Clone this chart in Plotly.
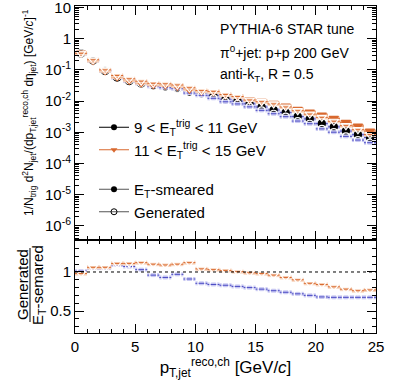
import plotly.graph_objects as go
from plotly.subplots import make_subplots

# bin centres, 1 GeV/c bins
pt = [0.5, 1.5, 2.5, 3.5, 4.5, 5.5, 6.5, 7.5, 8.5, 9.5, 10.5, 11.5, 12.5,
      13.5, 14.5, 15.5, 16.5, 17.5, 18.5, 19.5, 20.5, 21.5, 22.5, 23.5, 24.5]
half_bin = 0.5

# E_T-smeared spectra
smeared_9_11 = [0.34, 0.20, 0.093, 0.057, 0.044, 0.037, 0.031, 0.029, 0.026, 0.020,
                0.018, 0.0147, 0.0115, 0.010, 0.0082, 0.0065, 0.0052, 0.0043, 0.0032,
                0.0027, 0.0019, 0.0015, 0.0011, 0.00084, 0.00069]
smeared_11_15 = [0.35, 0.20, 0.095, 0.060, 0.047, 0.039, 0.034, 0.033, 0.030, 0.024,
                 0.021, 0.020, 0.016, 0.014, 0.011, 0.0098, 0.0085, 0.0070, 0.0055,
                 0.0045, 0.0036, 0.0028, 0.0021, 0.0016, 0.0011]

# Generated / E_T-smeared
ratio_9_11 = [1.01, 1.05, 1.05, 1.09, 1.07, 1.03, 0.96, 0.93, 0.97, 0.91, 0.855, 0.84,
              0.83, 0.815, 0.80, 0.78, 0.76, 0.74, 0.72, 0.70, 0.68, 0.675, 0.675,
              0.675, 0.675]
ratio_11_15 = [0.98, 1.06, 1.06, 1.11, 1.11, 1.12, 1.10, 1.09, 1.10, 1.12, 1.04, 1.03,
               1.02, 1.005, 0.99, 0.98, 0.96, 0.93, 0.90, 0.855, 0.84, 0.81, 0.78,
               0.76, 0.77]

generated_9_11 = [s * r for s, r in zip(smeared_9_11, ratio_9_11)]
generated_11_15 = [s * r for s, r in zip(smeared_11_15, ratio_11_15)]

BLUE = "#4b4bc3"
LIGHT_BLUE = "#c9c9f2"
ORANGE = "#d8682e"
LIGHT_ORANGE = "#f7d2ba"
FONT = "Liberation Sans, Arial, sans-serif"

# pixel frame of the plot area
L, R, T, B = 75, 376, 6, 333
W, H = 415, 384
PW, PH = R - L, B - T


def px(x):
    return (x - L) / PW


def py(y):
    return 1 - (y - T) / PH


fig = make_subplots(rows=2, cols=1, shared_xaxes=True, vertical_spacing=0,
                    row_heights=[234, 93])


def add_points(y, row, line_col, band_col, symbol, mcol, fill):
    # light band behind the bin
    fig.add_trace(go.Scatter(
        x=pt, y=y, mode="markers", marker=dict(size=1, opacity=0),
        error_x=dict(type="constant", value=half_bin, color=band_col, thickness=4, width=0),
        showlegend=False, hoverinfo="skip"), row=row, col=1)
    fig.add_trace(go.Scatter(
        x=pt, y=y, mode="markers",
        marker=dict(symbol=symbol, size=7 if "circle" in symbol else 8,
                    color=mcol if fill else "white",
                    line=dict(color=mcol, width=1.2)),
        error_x=dict(type="constant", value=half_bin, color=line_col, thickness=1, width=0),
        showlegend=False), row=row, col=1)


# top panel
add_points(smeared_9_11, 1, BLUE, LIGHT_BLUE, "circle", "black", True)
add_points(generated_9_11, 1, BLUE, LIGHT_BLUE, "circle-open", "black", False)
add_points(smeared_11_15, 1, ORANGE, LIGHT_ORANGE, "triangle-down", ORANGE, True)
add_points(generated_11_15, 1, ORANGE, LIGHT_ORANGE, "triangle-down-open", ORANGE, False)

# ratio panel
add_points(ratio_9_11, 2, BLUE, LIGHT_BLUE, "circle-open", "black", False)
add_points(ratio_11_15, 2, ORANGE, LIGHT_ORANGE, "triangle-down-open", ORANGE, False)

# legend entries
leg = [
    ("9 < E<sub>T</sub><sup>trig</sup> < 11 GeV", "black", "circle", "black", "a"),
    ("11 < E<sub>T</sub><sup>trig</sup> < 15 GeV", ORANGE, "triangle-down", ORANGE, "a"),
    ("E<sub>T</sub>-smeared", "#555555", "circle", "black", "b"),
    ("Generated", "#555555", "circle-open", "black", "b"),
]
for name, lcol, sym, mcol, grp in leg:
    fig.add_trace(go.Scatter(
        x=[None], y=[None], mode="lines+markers", name=name, legendgroup=grp,
        line=dict(color=lcol, width=1),
        marker=dict(symbol=sym, size=6, color=mcol)), row=1, col=1)

fig.add_hline(y=1, line=dict(color="black", width=1, dash="3px,3px"), row=2, col=1)

axis_common = dict(
    showline=True, linecolor="black", linewidth=1, mirror="ticks",
    ticks="inside", ticklen=9, tickcolor="black", showgrid=False, zeroline=False,
    automargin=False, ticklabeloverflow="allow",
    tickfont=dict(family=FONT, size=15, color="black"),
)

fig.update_xaxes(range=[0, 25], dtick=5, **axis_common,
                 minor=dict(ticks="inside", ticklen=4, dtick=1, tickcolor="black"))
fig.update_xaxes(showticklabels=False, row=1, col=1)
fig.update_xaxes(title=dict(text="p<sub>T,jet</sub><sup>reco,ch</sup> [GeV/<i>c</i>]",
                            font=dict(family=FONT, size=17, color="black"), standoff=3),
                 row=2, col=1)

fig.update_yaxes(type="log", range=[-6.45, 1.05],
                 tickvals=[10, 1, 0.1, 0.01, 0.001, 1e-4, 1e-5, 1e-6],
                 ticktext=["10", "1", "10<sup>-1</sup>", "10<sup>-2</sup>", "10<sup>-3</sup>",
                           "10<sup>-4</sup>", "10<sup>-5</sup>", "10<sup>-6</sup>"],
                 **axis_common,
                 minor=dict(ticks="inside", ticklen=4, tickcolor="black", dtick="D1"),
                 row=1, col=1)
fig.update_yaxes(range=[0.218, 1.41], tickvals=[0.5, 1], ticktext=["0.5", "1"],
                 **axis_common,
                 minor=dict(ticks="inside", ticklen=4, dtick=0.1, tickcolor="black"),
                 row=2, col=1)

txt = dict(family=FONT, size=14, color="black")
for t, yy in [("PYTHIA-6 STAR tune", 29), ("π<sup>0</sup>+jet: p+p 200 GeV", 52),
              ("anti-k<sub>T</sub>, R = 0.5", 75)]:
    fig.add_annotation(text=t, xref="paper", yref="paper", x=px(218), y=py(yy),
                       xanchor="left", yanchor="middle", showarrow=False, font=txt)

# y titles
fig.add_annotation(
    text="1/N<sub>trig</sub> d<sup>2</sup>N<sub>jet</sub>/(dp<sub>T,jet</sub><sup>reco,ch</sup> dη<sub>jet</sub>) [GeV/<i>c</i>]<sup>-1</sup>",
    xref="paper", yref="paper", x=px(29), y=py(113), xanchor="center", yanchor="middle",
    textangle=-90, showarrow=False, font=dict(family=FONT, size=12, color="black"))
fig.add_annotation(text="Generated", xref="paper", yref="paper", x=px(22), y=py(285),
                   xanchor="center", yanchor="middle", textangle=-90, showarrow=False,
                   font=dict(family=FONT, size=15, color="black"))
fig.add_annotation(text="E<sub>T</sub>-semared", xref="paper", yref="paper",
                   x=px(38), y=py(285), xanchor="center", yanchor="middle", textangle=-90,
                   showarrow=False, font=dict(family=FONT, size=15, color="black"))
fig.add_shape(type="line", xref="paper", yref="paper", x0=px(30), x1=px(30),
              y0=py(248), y1=py(322), line=dict(color="black", width=1))

fig.update_layout(
    width=W, height=H,
    margin=dict(l=L, r=W - R, t=T, b=H - B),
    paper_bgcolor="white", plot_bgcolor="white",
    showlegend=True,
    legend=dict(x=px(94), y=py(111), xanchor="left", yanchor="top",
                bgcolor="rgba(0,0,0,0)", font=dict(family=FONT, size=15, color="black"),
                tracegroupgap=17, traceorder="grouped", itemwidth=30),
)

# the page body has a default 8px margin; drop it so the figure sits at the corner
fig.write_html("out.html", config={"displayModeBar": False},
               post_script="document.body.style.margin='0px';")
